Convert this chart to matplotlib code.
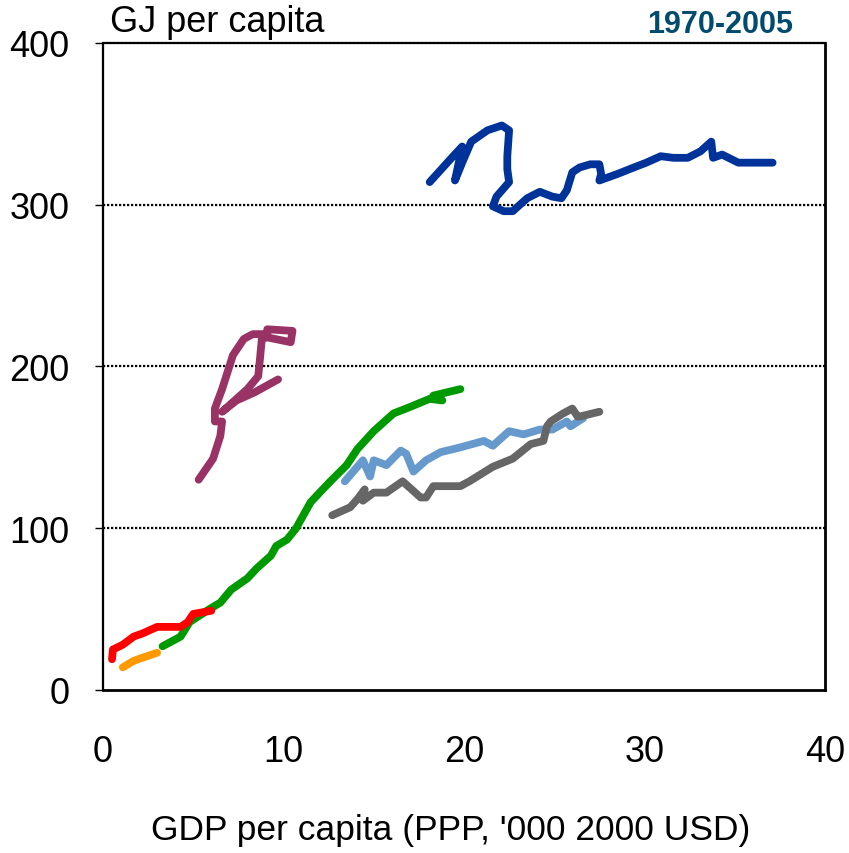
import matplotlib.pyplot as plt

plt.rcParams['font.family'] = ['Liberation Sans', 'DejaVu Sans']

# ── data: GDP per capita ('000 USD) vs energy use (GJ per capita), 1970-2005 ──
blue_x = [18.1, 19.4, 19.9, 19.5, 19.9, 20.4, 21.3, 22.1, 22.5, 22.4, 22.4, 22.5,
          21.8, 21.6, 22.2, 22.7, 23.5, 24.2, 24.9, 25.4, 25.7, 26.0, 26.4, 27.0,
          27.5, 27.6, 27.5, 28.5, 29.4, 30.1, 30.9, 31.6, 32.4, 33.1, 33.7, 33.8,
          34.3, 35.2, 36.2, 37.1]
blue_y = [314, 330, 336, 315, 326, 339, 346, 349, 346, 330, 322, 314,
          305, 299, 296, 296, 304, 308, 305, 304, 309, 320, 323, 325,
          325, 319, 315, 319, 323, 326, 330, 329, 329, 333, 339, 329,
          331, 326, 326, 326]

magenta_x = [5.3, 6.1, 6.5, 6.6, 6.2, 6.2, 6.6, 7.2, 7.8, 8.3, 9.1, 9.1, 10.5,
             10.4, 9.1, 8.8, 8.7, 8.6, 8.0, 7.2, 6.6, 7.4, 8.4, 9.7]
magenta_y = [130, 143, 157, 166, 166, 174, 186, 207, 217, 220, 220, 223, 222,
             215, 218, 217, 205, 194, 186, 178, 172, 179, 184, 192]

green_x = [3.3, 4.3, 4.8, 5.9, 6.5, 7.1, 8.0, 8.5, 9.3, 9.6, 10.2, 10.7, 11.1,
           11.5, 12.0, 12.6, 13.5, 14.1, 15.0, 16.1, 16.8, 18.1, 18.8, 18.3, 19.8]
green_y = [27, 33, 42, 50, 54, 62, 69, 75, 83, 89, 93, 100, 108,
           116, 122, 129, 139, 149, 160, 171, 174, 180, 179, 182, 186]

lightblue_x = [13.4, 14.4, 14.8, 15.0, 15.7, 16.5, 16.8, 17.2, 17.9, 18.7, 19.8,
               21.1, 21.6, 22.5, 23.3, 24.2, 24.9, 25.7, 25.9, 26.6]
lightblue_y = [129, 142, 132, 142, 139, 148, 146, 135, 142, 147, 150,
               154, 151, 160, 158, 161, 161, 166, 163, 168]

gray_x = [12.7, 13.7, 14.1, 14.5, 14.4, 15.0, 15.7, 16.6, 17.6, 17.9, 18.3, 19.8,
          20.3, 21.6, 22.7, 23.7, 24.4, 24.6, 24.8, 25.5, 26.0, 26.3, 26.4, 27.5]
gray_y = [108, 113, 118, 124, 117, 122, 122, 129, 119, 119, 126, 126,
          129, 138, 143, 152, 154, 163, 166, 171, 174, 169, 169, 172]

red_x = [0.5, 0.55, 1.1, 1.7, 2.2, 3.0, 4.3, 4.7, 5.0, 5.5, 6.0]
red_y = [19, 25, 28, 33, 35, 39, 39, 42, 47, 48, 49]

orange_x = [1.1, 1.7, 2.2, 3.0]
orange_y = [14, 18, 20, 23]

series = [
    (lightblue_x, lightblue_y, '#6699CC'),
    (green_x, green_y, '#009900'),
    (orange_x, orange_y, '#FF9900'),
    (red_x, red_y, '#FF0000'),
    (magenta_x, magenta_y, '#993366'),
    (gray_x, gray_y, '#666666'),
    (blue_x, blue_y, '#003399'),
]

fig = plt.figure(figsize=(8.49, 8.54), dpi=100)
ax = fig.add_axes([0.1213, 0.1909, 0.8504, 0.7576])

for xs, ys, col in series:
    ax.plot(xs, ys, color=col, lw=5.6, solid_capstyle='round',
            solid_joinstyle='round', zorder=3)

ax.set_xlim(0, 40)
ax.set_ylim(0, 400)
ax.set_xticks([0, 10, 20, 30, 40])
ax.set_yticks([0, 100, 200, 300, 400])
ax.tick_params(axis='x', length=0, pad=32, labelsize=26)
ax.tick_params(axis='y', length=6, width=1, pad=18, labelsize=26)

# dotted gridlines
for gy in (100, 200, 300):
    ax.axhline(gy, color='black', lw=1.6, ls=(0, (1, 0.8)), zorder=1)

ax.spines['left'].set_linestyle((0, (1, 0.8)))
ax.spines['top'].set_linestyle((0, (1, 0.8)))
ax.spines['left'].set_linewidth(1.6)
ax.spines['top'].set_linewidth(1.6)
ax.spines['right'].set_linewidth(2)
ax.spines['bottom'].set_linewidth(2)

ax.set_xlabel("GDP per capita (PPP, '000 2000 USD)", fontsize=25.5, va='center')
ax.xaxis.set_label_coords(0.481, -0.215)

fig.text(0.130, 0.974, 'GJ per capita', fontsize=26, va='center', ha='left')
fig.text(0.848, 0.971, '1970-2005', fontsize=22, fontweight='bold',
         color='#004B6E', va='center', ha='center')

fig.savefig('out.png', dpi=100)
